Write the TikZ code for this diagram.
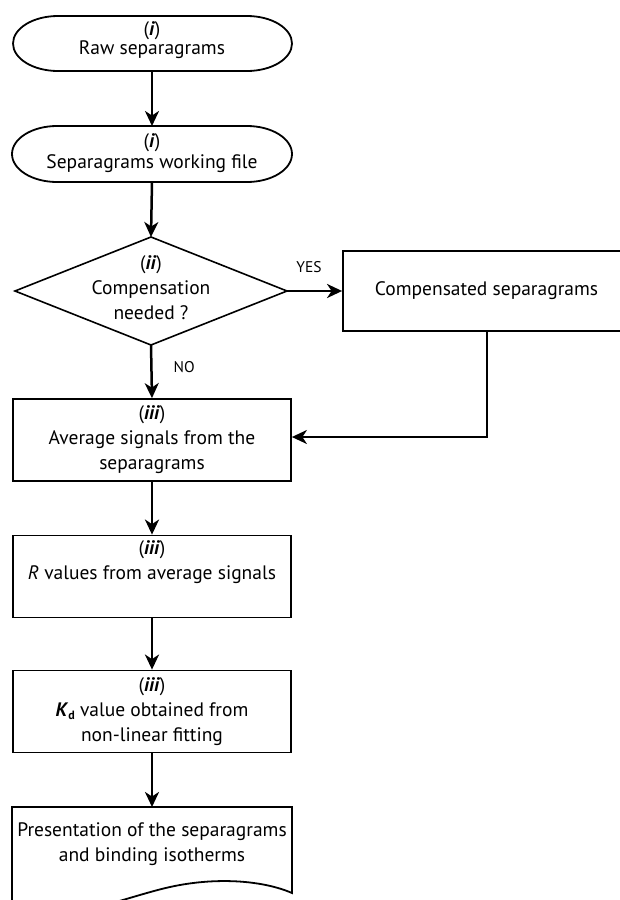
\documentclass[tikz,border=0pt]{standalone}
\usepackage{fontspec}
\setmainfont{PT Sans}
\usetikzlibrary{arrows.meta}
\newcommand{\bi}[1]{\textbf{\textit{#1}}}
\begin{document}
\begin{tikzpicture}[x=1pt,y=1pt,
  lbl/.style={font=\fontsize{19.5}{25}\selectfont, align=center, inner sep=0pt},
  small/.style={font=\fontsize{15.5}{17}\selectfont, inner sep=0pt},
  box/.style={draw, line width=1.8pt, minimum width=278pt, minimum height=82pt, lbl},
  shapeline/.style={line width=1.8pt},
  flow/.style={line width=2.5pt, -{Stealth[length=15pt,width=14pt,inset=4.5pt]}},
  back/.style={line width=2pt, -{Stealth[length=15pt,width=14pt,inset=4.5pt]}}
]
\useasboundingbox (0,0) rectangle (620,-900);
\clip (0,0) rectangle (620,-900);

% terminal 1
\coordinate (t1nw) at (58,-16);
\coordinate (t1ne) at (247,-16);
\coordinate (t1sw) at (58,-71);
\coordinate (t1s) at (152,-71);
\draw[shapeline] (t1nw) -- (t1ne)
  arc[start angle=90, end angle=-90, x radius=45pt, y radius=27.5pt]
  -- (t1sw)
  arc[start angle=270, end angle=90, x radius=45pt, y radius=27.5pt] -- cycle;
\node[lbl] (t1) at (152,-40.5) {(\bi{i})\\[-6pt]Raw separagrams};

% terminal 2
\coordinate (t2nw) at (57,-126);
\coordinate (t2ne) at (247,-126);
\coordinate (t2n) at (152,-126);
\coordinate (t2sw) at (57,-182);
\coordinate (t2s) at (152,-182);
\draw[shapeline] (t2nw) -- (t2ne)
  arc[start angle=90, end angle=-90, x radius=45pt, y radius=28pt]
  -- (t2sw)
  arc[start angle=270, end angle=90, x radius=45pt, y radius=28pt] -- cycle;
\node[lbl] (t2) at (152,-153) {(\bi{i})\\[-4pt]Separagrams working file};

% decision
\coordinate (dtop) at (151,-237);
\coordinate (dleft) at (15,-291);
\coordinate (dright) at (287,-291);
\coordinate (dbot) at (151,-345);
\draw[line width=1.6pt] (dtop) -- (dright) -- (dbot) -- (dleft) -- cycle;
\node[lbl] (dec) at (151,-288) {(\bi{ii})\\Compensation\\needed ?};

% compensated
\node[box, minimum width=287pt, minimum height=80pt] (comp) at (486.5,-291)
  {Compensated separagrams};

% process boxes
\node[box] (avg) at (152,-440)
  {(\bi{iii})\\Average signals from the\\separagrams};
\node[box] (rval) at (152,-576.5)
  {(\bi{iii})\\\textit{R} values from average signals\\\strut};
\node[box] (kd) at (152,-711.5)
  {(\bi{iii})\\\bi{K}\raisebox{-3pt}{\fontsize{12}{12}\selectfont\textbf{d}} value obtained from\\non-linear fitting};

% document
\coordinate (dnw) at (12,-807);
\coordinate (dne) at (292,-807);
\coordinate (dse) at (292,-893);
\coordinate (dsw) at (12,-915);
\draw[shapeline] (dsw) -- (dnw) -- (dne) -- (dse)
  .. controls (262,-880) and (215,-877) .. (170,-887)
  .. controls (125,-897) and (70,-922) .. (dsw);
\node[lbl] (doc) at (152,-844.5)
  {Presentation of the separagrams\\and binding isotherms};
\coordinate (doctop) at (152,-807);

% connectors
\draw[flow] (t1s) -- (t2n);
\draw[flow] (t2s) -- (dtop);
\draw[flow] (dright) -- (comp.west) node[small, pos=0.4, above=17pt] (yes) {YES};
\draw[flow] (dbot) -- (avg.north) node[small, pos=0.42, right=21pt] (no) {NO};
\draw[back] (comp.south) |- ([yshift=3pt]avg.east);
\draw[flow] (avg.south) -- (rval.north);
\draw[flow] (rval.south) -- (kd.north);
\draw[flow] (kd.south) -- (doctop);
\end{tikzpicture}
\end{document}
